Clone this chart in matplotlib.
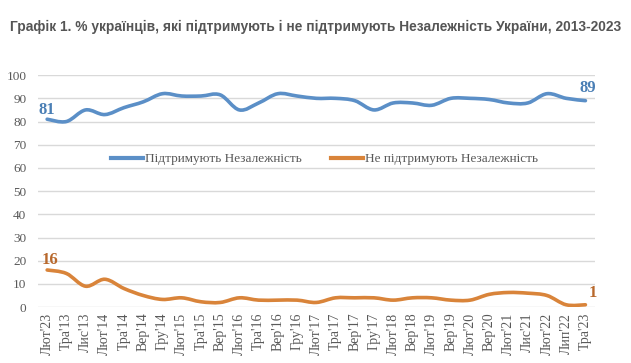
import numpy as np
import matplotlib
matplotlib.use('Agg')
import matplotlib.pyplot as plt
from matplotlib.path import Path
from matplotlib.patches import PathPatch
from matplotlib.lines import Line2D

labels = ["Лют'23", "Тра'13", "Лис'13", "Лют'14", "Тра'14", "Вер'14", "Гру'14",
          "Лют'15", "Тра'15", "Вер'15", "Лют'16", "Тра'16", "Вер'16", "Гру'16",
          "Лют'17", "Тра'17", "Вер'17", "Гру'17", "Лют'18", "Вер'18", "Лют'19",
          "Вер'19", "Лют'20", "Вер'20", "Лют'21", "Лис'21", "Лют'22", "Лип'22", "Тра'23"]
support = [81, 80, 85, 83, 86, 88.5, 92, 91, 91, 91.5, 85, 88, 92, 91, 90,
           90, 89, 85, 88, 88, 87, 90, 90, 89.5, 88, 88, 92, 90, 89]
oppose = [16, 14.5, 9, 12, 8, 5, 3.3, 4, 2.3, 2, 4, 3, 3, 3, 2,
          4, 4, 4, 3, 4, 4, 3, 3, 5.5, 6.3, 6, 5, 1, 1]

blue = '#5b8fc7'
orange = '#d9843a'
gray = '#595959'

def smooth_path(xs, ys, t=0.17):
    # bezier curve through the points, like the spreadsheet "smoothed line"
    xs = np.asarray(xs, float)
    ys = np.asarray(ys, float)
    n = len(xs)
    verts = [(xs[0], ys[0])]
    codes = [Path.MOVETO]
    for i in range(n - 1):
        p0 = i - 1 if i > 0 else i
        p3 = i + 2 if i + 2 < n else i + 1
        d1 = ((xs[i + 1] - xs[p0]) * t, (ys[i + 1] - ys[p0]) * t)
        d2 = ((xs[p3] - xs[i]) * t, (ys[p3] - ys[i]) * t)
        verts += [(xs[i] + d1[0], ys[i] + d1[1]),
                  (xs[i + 1] - d2[0], ys[i + 1] - d2[1]),
                  (xs[i + 1], ys[i + 1])]
        codes += [Path.CURVE4] * 3
    return Path(verts, codes)

fig = plt.figure(figsize=(6.31, 3.63), dpi=100)
ax = fig.add_axes([0.0595, 0.154, 0.8835, 0.639])

x = np.arange(len(labels))
for vals, col in [(support, blue), (oppose, orange)]:
    ax.add_patch(PathPatch(smooth_path(x, vals), facecolor='none', edgecolor=col,
                           lw=2.6, capstyle='round', joinstyle='round', zorder=3))

ax.set_xlim(-0.5, len(labels) - 0.5)
ax.set_ylim(0, 100)
ax.set_yticks(range(0, 101, 10))
ax.set_xticks(x)
ax.set_xticklabels(labels, rotation=90)
ax.grid(axis='y', color='#d9d9d9', lw=1)
ax.set_axisbelow(True)
for s in ax.spines.values():
    s.set_visible(False)
ax.tick_params(axis='y', length=0, labelsize=9.5, labelcolor=gray, pad=8)
ax.tick_params(axis='x', length=0, labelsize=10, labelcolor=gray, pad=4)
for lab in ax.get_xticklabels() + ax.get_yticklabels():
    lab.set_family('Liberation Serif')

lab_kw = dict(fontsize=12, fontweight='bold', family='Liberation Serif', va='center')
ax.text(x[0], support[0] + 4, '81', color='#4a7fb5', ha='center', **lab_kw)
ax.text(x[-1] + 0.1, support[-1] + 5.4, '89', color='#4a7fb5', ha='center', **lab_kw)
ax.text(x[0] + 0.15, oppose[0] + 4.5, '16', color='#b8682c', ha='center', **lab_kw)
ax.text(x[-1] + 0.15, oppose[-1] + 5, '1', color='#b8682c', ha='left', **lab_kw)

handles = [Line2D([], [], color=blue, lw=3), Line2D([], [], color=orange, lw=3)]
leg = ax.legend(handles, ['Підтримують Незалежність', 'Не підтримують Незалежність'],
                loc='center', bbox_to_anchor=(0.515, 0.638), ncol=2, frameon=False,
                handlelength=2.4, handletextpad=0.2, columnspacing=2.2,
                prop={'family': 'Liberation Serif', 'size': 9.5})
for t in leg.get_texts():
    t.set_color(gray)

fig.text(0.5, 0.925, 'Графік 1. % українців, які підтримують і не підтримують Незалежність України, 2013-2023',
         ha='center', va='center', fontsize=9.95, fontweight='bold', color='#555555',
         family='Liberation Sans')

fig.savefig('out.png', dpi=100)
